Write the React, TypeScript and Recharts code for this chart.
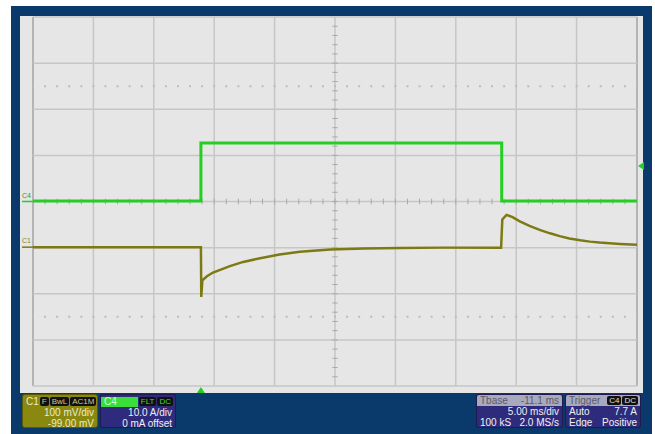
import React from "react";
import { LineChart, Line, XAxis, YAxis, ReferenceLine, ReferenceDot } from "recharts";

// scope settings
const timebaseMs = -11.1;
const msPerDiv = 5;
const ampsPerDiv = 10;
const mvPerDiv = 100;
const c1OffsetMv = -99;
const triggerLevelAmps = 7.7;

// C4: current probe (A)
const c4TimeMs = [-13.9, 0, 0, 24.9, 24.9, 36.1];
const c4Amps = [0.1, 0.1, 12.7, 12.7, 0.1, 0.1];

// C1: voltage, AC coupled (mV)
const c1TimeMs = [
  -13.9, 0, 0.03, 0.12, 0.5, 1.0, 1.7, 2.4, 3.5, 4.9, 6.5, 8.2, 10.7, 13.5, 16.5,
  20, 24.85, 24.95, 25.3, 25.8, 26.4, 27.2, 28.1, 28.9, 29.7, 30.5, 31.4, 32.2, 33.0, 34.7, 36.1,
];
const c1MilliVolts = [
  0, 0, -108, -72, -63, -55, -48, -41, -32, -24, -16, -10, -5, -3, -2,
  -1, -1, 60, 70, 65, 56, 46, 37, 30, 24, 19, 15, 12, 10, 7, 5,
];

const c4Data = c4TimeMs.map((t, i) => ({ t, amps: c4Amps[i] }));
const c1Data = c1TimeMs.map((t, i) => ({ t, mv: c1MilliVolts[i] }));

const xCenter = -timebaseMs;
const xMin = xCenter - 5 * msPerDiv;
const xMax = xCenter + 5 * msPerDiv;
const xDivs = Array.from({ length: 11 }, (_, k) => xMin + k * msPerDiv);
const yDivs = [-4, -3, -2, -1, 0, 1, 2, 3, 4];
const xMinorTicks = Array.from({ length: 49 }, (_, k) => xMin + (k + 1) * msPerDiv * 0.2);
const yMinorTicks = Array.from({ length: 39 }, (_, k) => -4 + (k + 1) * 0.2);

const NAVY = "#0a3a6b";
const PANEL = "#e6e6e6";
const GRID = "#c6c6c6";
const GREEN = "#22cf22";
const OLIVE = "#7c7a14";
const FONT = "'Liberation Sans', Arial, sans-serif";

function Chip({ children, color }: { children: React.ReactNode; color: string }) {
  return (
    <span
      style={{
        background: "#111",
        color,
        fontSize: 8,
        lineHeight: "9px",
        padding: "0 2px",
        borderRadius: 2,
        marginLeft: 1,
      }}
    >
      {children}
    </span>
  );
}

function Row({ left, right, color }: { left?: string; right?: string; color: string }) {
  return (
    <div
      style={{
        display: "flex",
        justifyContent: "space-between",
        height: 11,
        lineHeight: "11px",
        padding: "0 3px",
        color,
      }}
    >
      <span>{left}</span>
      <span>{right}</span>
    </div>
  );
}

function InfoBox({
  left,
  width,
  bg,
  header,
  rows,
  textColor,
}: {
  left: number;
  width: number;
  bg: string;
  header: React.ReactNode;
  rows: { left?: string; right?: string }[];
  textColor: string;
}) {
  return (
    <div
      style={{
        position: "absolute",
        left,
        top: 394,
        width,
        height: 34,
        background: bg,
        borderRadius: 3,
        border: "1px solid rgba(0,0,0,0.35)",
        boxSizing: "border-box",
        overflow: "hidden",
        fontFamily: FONT,
        fontSize: 10,
      }}
    >
      {header}
      {rows.map((r, i) => (
        <Row key={i} left={r.left} right={r.right} color={textColor} />
      ))}
    </div>
  );
}

export default function App() {
  return (
    <div style={{ position: "absolute", left: 0, top: 0, width: 655, height: 434, background: "#fff" }}>
      <div style={{ position: "absolute", left: 11, top: 6, width: 641, height: 428, background: NAVY }} />
      <div style={{ position: "absolute", left: 20, top: 16, width: 623, height: 377, background: PANEL }} />
      <div style={{ position: "absolute", left: 0, top: 0 }}>
        <LineChart width={655} height={434} margin={{ top: 17, right: 18, bottom: 48, left: 33 }}>
          <XAxis dataKey="t" type="number" domain={[xMin, xMax]} allowDataOverflow hide />
          <YAxis yAxisId="div" type="number" domain={[-4, 4]} allowDataOverflow hide />
          <YAxis yAxisId="amps" type="number" domain={[-4 * ampsPerDiv, 4 * ampsPerDiv]} allowDataOverflow hide />
          <YAxis
            yAxisId="mv"
            type="number"
            domain={[-4 * mvPerDiv - c1OffsetMv, 4 * mvPerDiv - c1OffsetMv]}
            allowDataOverflow
            hide
          />

          {xDivs.map((x, i) => (
            <ReferenceLine
              key={"vx" + i}
              yAxisId="div"
              x={x}
              stroke={i === 0 || i === 10 ? "#b4b4b4" : GRID}
              strokeWidth={i === 0 || i === 10 ? 2 : 1.5}
            />
          ))}
          {yDivs.map((y) => (
            <ReferenceLine key={"hy" + y} yAxisId="div" y={y} stroke={GRID} strokeWidth={1.5} />
          ))}
          {[2.5, -2.5].map((y) => (
            <ReferenceLine
              key={"dot" + y}
              yAxisId="div"
              y={y}
              stroke="#bcbcbc"
              strokeWidth={2}
              strokeDasharray="2 10.08"
              strokeDashoffset={1}
            />
          ))}
          {xMinorTicks.map((x, i) => (
            <ReferenceLine
              key={"tx" + i}
              yAxisId="div"
              segment={[
                { x, y: -0.06 },
                { x, y: 0.06 },
              ]}
              stroke="#a8a8a8"
              strokeWidth={1}
            />
          ))}
          {yMinorTicks.map((y, i) => (
            <ReferenceLine
              key={"ty" + i}
              yAxisId="div"
              segment={[
                { x: xCenter - 0.22, y },
                { x: xCenter + 0.22, y },
              ]}
              stroke="#a8a8a8"
              strokeWidth={1}
            />
          ))}

          <Line
            data={c4Data}
            yAxisId="amps"
            dataKey="amps"
            type="linear"
            stroke={GREEN}
            strokeWidth={3}
            dot={false}
            isAnimationActive={false}
          />
          <Line
            data={c1Data}
            yAxisId="mv"
            dataKey="mv"
            type="linear"
            stroke={OLIVE}
            strokeWidth={2.5}
            dot={false}
            isAnimationActive={false}
          />

          <ReferenceDot
            x={xMin}
            y={0}
            yAxisId="amps"
            r={0}
            ifOverflow="visible"
            shape={(p: any) => (
              <g>
                <text x={p.cx - 11} y={p.cy - 4} fontSize={7} fill="#2c9c2c" fontFamily={FONT}>
                  C4
                </text>
                <line x1={p.cx - 11} x2={p.cx} y1={p.cy} y2={p.cy} stroke={GREEN} strokeWidth={1.5} />
              </g>
            )}
          />
          <ReferenceDot
            x={xMin}
            y={0}
            yAxisId="mv"
            r={0}
            ifOverflow="visible"
            shape={(p: any) => (
              <g>
                <text x={p.cx - 11} y={p.cy - 4} fontSize={7} fill="#8a8620" fontFamily={FONT}>
                  C1
                </text>
                <line x1={p.cx - 11} x2={p.cx} y1={p.cy} y2={p.cy} stroke={OLIVE} strokeWidth={1.5} />
              </g>
            )}
          />
          <ReferenceDot
            x={0}
            y={-4}
            yAxisId="div"
            r={0}
            ifOverflow="visible"
            shape={(p: any) => (
              <path d={`M${p.cx},${p.cy + 1} L${p.cx + 4},${p.cy + 7} L${p.cx - 4},${p.cy + 7} Z`} fill={GREEN} />
            )}
          />
          <ReferenceDot
            x={xMax}
            y={triggerLevelAmps}
            yAxisId="amps"
            r={0}
            ifOverflow="visible"
            shape={(p: any) => (
              <path d={`M${p.cx + 1},${p.cy} L${p.cx + 7},${p.cy - 4} L${p.cx + 7},${p.cy + 4} Z`} fill={GREEN} />
            )}
          />
        </LineChart>
      </div>

      <InfoBox
        left={22}
        width={76}
        bg="#8a880e"
        textColor="#ecebd0"
        header={
          <div style={{ display: "flex", alignItems: "center", height: 11, padding: "1px 2px 0 3px", color: "#ecebd0" }}>
            <span style={{ flex: 1 }}>C1</span>
            <Chip color="#c9c89a">F</Chip>
            <Chip color="#c9c89a">BwL</Chip>
            <Chip color="#c9c89a">AC1M</Chip>
          </div>
        }
        rows={[{ right: "100 mV/div" }, { right: "-99.00 mV" }]}
      />
      <InfoBox
        left={100}
        width={76}
        bg="#2e2a7c"
        textColor="#f0f0f0"
        header={
          <div style={{ display: "flex", alignItems: "center", height: 11, padding: "1px 2px 0 0" }}>
            <span style={{ width: 38, background: "#3ade3a", color: "#d8ffd8", paddingLeft: 3, height: 10, lineHeight: "10px" }}>
              C4
            </span>
            <span style={{ flex: 1 }} />
            <Chip color="#3ade3a">FLT</Chip>
            <Chip color="#3ade3a">DC</Chip>
          </div>
        }
        rows={[{ right: "10.0 A/div" }, { right: "0 mA offset" }]}
      />
      <InfoBox
        left={476}
        width={87}
        bg="#2e2a7c"
        textColor="#f0f0f0"
        header={
          <div
            style={{
              display: "flex",
              justifyContent: "space-between",
              height: 11,
              lineHeight: "11px",
              padding: "0 3px",
              background: "#a9a9bd",
              color: "#5a5a6a",
            }}
          >
            <span>Tbase</span>
            <span>{timebaseMs} ms</span>
          </div>
        }
        rows={[{ right: "5.00 ms/div" }, { left: "100 kS", right: "2.0 MS/s" }]}
      />
      <InfoBox
        left={565}
        width={76}
        bg="#2e2a7c"
        textColor="#f0f0f0"
        header={
          <div
            style={{
              display: "flex",
              alignItems: "center",
              height: 11,
              padding: "0 2px 0 3px",
              background: "#a9a9bd",
              color: "#5a5a6a",
            }}
          >
            <span style={{ flex: 1 }}>Trigger</span>
            <Chip color="#e0e0e0">C4</Chip>
            <Chip color="#e0e0e0">DC</Chip>
          </div>
        }
        rows={[{ left: "Auto", right: "7.7 A" }, { left: "Edge", right: "Positive" }]}
      />
    </div>
  );
}
